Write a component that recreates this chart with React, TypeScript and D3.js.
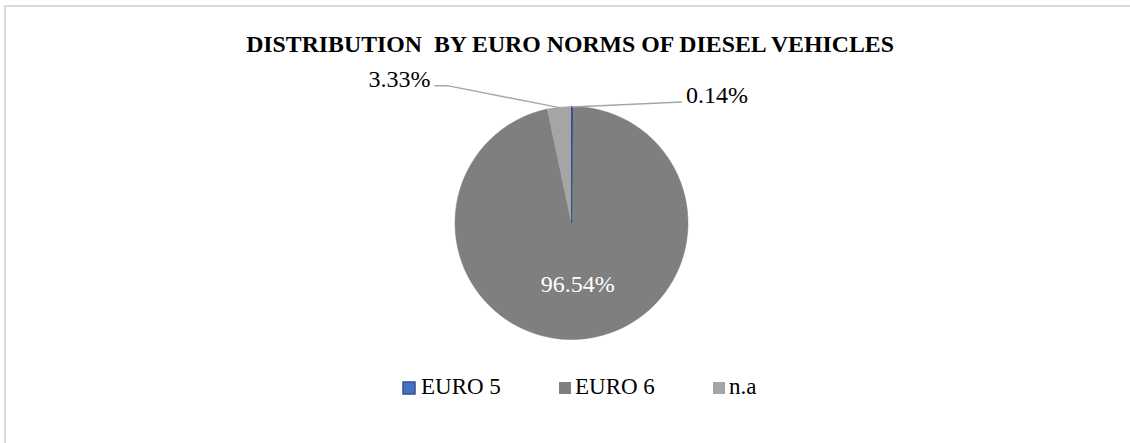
import React, { useEffect, useRef } from 'react';
import * as d3 from 'd3';

const categories = ['EURO 5', 'EURO 6', 'n.a'];
const shares = [0.14, 96.54, 3.33];
const colors = ['#4472C4', '#7F7F7F', '#A5A5A5'];
const strokes = ['#2F528F', '#7F7F7F', '#A5A5A5'];
const title = 'DISTRIBUTION\u00A0 BY EURO NORMS OF DIESEL VEHICLES';

const W = 1130;
const H = 443;
const FONT = "'Liberation Serif', 'Times New Roman', serif";

const App: React.FC = () => {
  const ref = useRef<SVGSVGElement | null>(null);

  useEffect(() => {
    if (!ref.current) return;
    const svg = d3.select(ref.current);
    svg.selectAll('*').remove();

    // chart area border (only left/top visible in the crop)
    svg
      .append('rect')
      .attr('x', 5)
      .attr('y', 6)
      .attr('width', W + 20)
      .attr('height', H + 20)
      .attr('fill', '#fff')
      .attr('stroke', '#D9D9D9')
      .attr('stroke-width', 2);

    svg
      .append('text')
      .attr('x', 570)
      .attr('y', 52)
      .attr('text-anchor', 'middle')
      .style('font-family', FONT)
      .style('font-weight', 'bold')
      .style('font-size', '23.8px')
      .attr('fill', '#000')
      .text(title);

    const cx = 571.5;
    const cy = 223;
    const r = 116.5;

    const pie = d3
      .pie<number>()
      .sort(null)
      .value((d) => d);
    const arcs = pie(shares);
    const arc = d3.arc<d3.PieArcDatum<number>>().innerRadius(0).outerRadius(r);

    const g = svg.append('g').attr('transform', `translate(${cx},${cy})`);

    // big slice first so the thin ones sit on top
    const order = [1, 2, 0];
    order.forEach((i) => {
      g.append('path')
        .attr('d', arc(arcs[i]) as string)
        .attr('fill', colors[i])
        .attr('stroke', strokes[i])
        .attr('stroke-width', i === 0 ? 1 : 0.5);
    });

    const fmt = (v: number) => `${v.toFixed(2)}%`;

    // point on outer edge at slice middle
    const edge = (a: d3.PieArcDatum<number>, rr: number) => {
      const m = (a.startAngle + a.endAngle) / 2;
      return [Math.sin(m) * rr, -Math.cos(m) * rr];
    };

    // inside label for EURO 6
    const [ix, iy] = edge(arcs[1], r * 0.53);
    g.append('text')
      .attr('x', ix)
      .attr('y', iy + 8)
      .attr('text-anchor', 'middle')
      .style('font-family', FONT)
      .style('font-size', '24px')
      .attr('fill', '#fff')
      .text(fmt(shares[1]));

    // outside labels with leader lines
    const outside = [
      { i: 0, dx: 110, dy: -5, anchor: 'start', elbow: 0 },
      { i: 2, dx: -112, dy: -22, anchor: 'end', elbow: -13 },
    ];
    outside.forEach((o) => {
      const [ex, ey] = edge(arcs[o.i], r - 0.5);
      const lx = ex + o.dx;
      const ly = ey + o.dy;
      const pts: [number, number][] = [
        [ex, ey],
        [lx, ly],
      ];
      if (o.elbow) pts.push([lx + o.elbow, ly]);
      g.append('path')
        .attr('d', d3.line()(pts) as string)
        .attr('fill', 'none')
        .attr('stroke', '#A6A6A6')
        .attr('stroke-width', 1.5);
      const endX = o.elbow ? lx + o.elbow : lx;
      g.append('text')
        .attr('x', o.anchor === 'start' ? endX + 4 : endX - 4)
        .attr('y', ly + 1)
        .attr('text-anchor', o.anchor)
        .style('font-family', FONT)
        .style('font-size', '24px')
        .attr('fill', '#000')
        .text(fmt(shares[o.i]));
    });

    // legend
    const legendX = [402, 559, 713];
    const legend = svg.append('g');
    categories.forEach((c, i) => {
      const item = legend.append('g').attr('transform', `translate(${legendX[i]},382)`);
      item
        .append('rect')
        .attr('x', i === 0 ? 1 : 0)
        .attr('y', i === 0 ? 0 : 0)
        .attr('width', 12)
        .attr('height', 12)
        .attr('fill', colors[i])
        .attr('stroke', i === 0 ? strokes[i] : 'none')
        .attr('stroke-width', 1.5);
      item
        .append('text')
        .attr('x', i === 0 ? 19 : 16)
        .attr('y', 11.5)
        .style('font-family', FONT)
        .style('font-size', '23px')
        .attr('fill', '#000')
        .text(c);
    });
  }, []);

  return (
    <svg
      ref={ref}
      width={W}
      height={H}
      style={{ position: 'absolute', left: 0, top: 0, display: 'block', background: '#fff' }}
    />
  );
};

export default App;
